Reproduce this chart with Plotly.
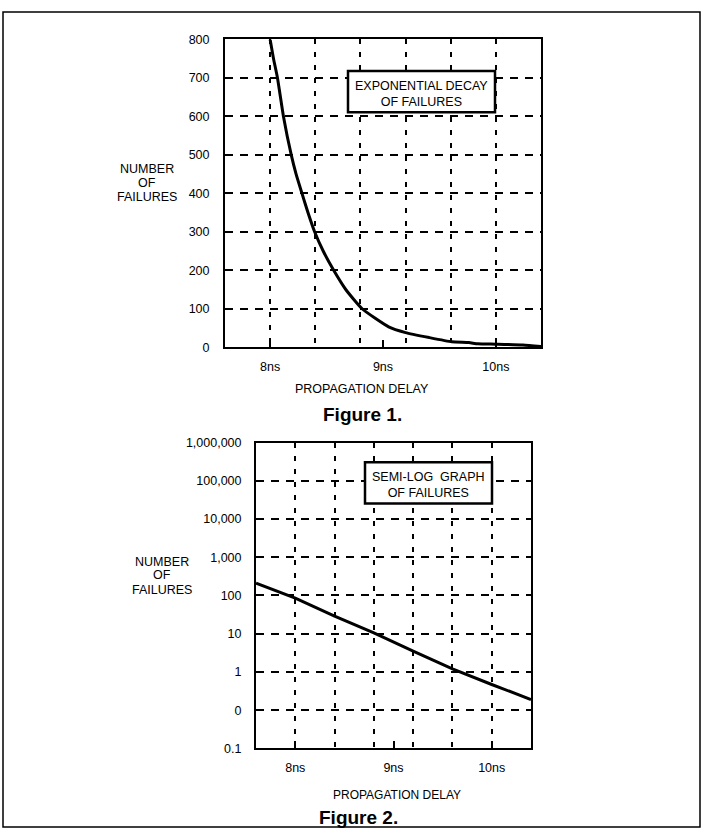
import plotly.graph_objects as go

# ---------------- data ----------------
# Figure 1: exponential decay of failures (linear scale)
delay_ns_fig1 = [8.00, 8.03, 8.065, 8.118, 8.187, 8.23, 8.282, 8.335, 8.394, 8.47,
                 8.563, 8.67, 8.815, 9.05, 9.20, 9.41, 9.61, 9.76, 9.84, 10.00,
                 10.24, 10.40]
failures_fig1 = [800, 750, 700, 600, 500, 450, 400, 350, 300, 250,
                 200, 150, 100, 53, 38, 25, 14, 12, 9, 8,
                 6, 2]

# Figure 2: semi-log graph of failures
delay_ns_fig2 = [7.6, 8.0, 8.4, 8.8, 9.2, 9.6, 10.0, 10.4]
failures_fig2 = [210, 85, 29, 10.5, 3.5, 1.2, 0.47, 0.19]

x_tick_vals = [8, 9, 10]
x_tick_text = ["8ns", "9ns", "10ns"]
x_grid_vals = [8.0, 8.4, 8.8, 9.2, 9.6, 10.0]
x_range = [7.6, 10.4]

y1_tick_vals = [0, 100, 200, 300, 400, 500, 600, 700, 800]
y1_tick_text = ["0", "100", "200", "300", "400", "500", "600", "700", "800"]

y2_tick_vals = [0.01, 0.1, 1, 10, 100, 1000, 10000, 100000, 1000000]
y2_tick_text = ["0.1", "0", "1", "10", "100", "1,000", "10,000", "100,000", "1,000,000"]

# ---------------- layout helpers ----------------
W, H = 704, 838
FONT = "Liberation Sans, Arial, Helvetica, sans-serif"
INK = "#000000"


def px(x):
    return x / W


def py(y):
    return 1 - y / H


fig = go.Figure()
fig.add_trace(go.Scatter(x=delay_ns_fig1, y=failures_fig1, mode="lines",
                         line=dict(color=INK, width=3, shape="spline", smoothing=0.5),
                         xaxis="x", yaxis="y", showlegend=False, hoverinfo="skip"))
fig.add_trace(go.Scatter(x=delay_ns_fig2, y=failures_fig2, mode="lines",
                         line=dict(color=INK, width=3),
                         xaxis="x2", yaxis="y2", showlegend=False, hoverinfo="skip"))
# invisible carriers so the overlaid label axes are drawn
fig.add_trace(go.Scatter(x=x_tick_vals, y=[0, 0, 0], mode="markers",
                         marker=dict(opacity=0), xaxis="x3", yaxis="y",
                         showlegend=False, hoverinfo="skip"))
fig.add_trace(go.Scatter(x=x_tick_vals, y=[1, 1, 1], mode="markers",
                         marker=dict(opacity=0), xaxis="x4", yaxis="y2",
                         showlegend=False, hoverinfo="skip"))

grid_axis_x = dict(range=x_range, autorange=False, tickmode="array", tickvals=x_grid_vals,
                   showticklabels=False, ticks="", showgrid=True, gridcolor=INK,
                   gridwidth=2, griddash="5px,8px", zeroline=False,
                   showline=True, linecolor=INK, linewidth=2, mirror=True, fixedrange=True)
label_axis_x = dict(range=x_range, autorange=False, tickmode="array", tickvals=x_tick_vals,
                    ticktext=x_tick_text, ticks="inside", ticklen=7, tickwidth=2,
                    tickcolor=INK, showgrid=False, zeroline=False, showline=False,
                    ticklabelstandoff=10, side="bottom",
                    tickfont=dict(family=FONT, size=12.5, color=INK), fixedrange=True)

fig.update_layout(
    width=W, height=H,
    margin=dict(l=0, r=0, t=0, b=0),
    paper_bgcolor="white", plot_bgcolor="white",
    font=dict(family=FONT, color=INK),
    xaxis=dict(domain=[px(225), px(541)], anchor="y", **grid_axis_x),
    xaxis3=dict(overlaying="x", anchor="y", **label_axis_x),
    yaxis=dict(domain=[py(346), py(33)], anchor="x", range=[0, 800], autorange=False,
               tickmode="array", tickvals=y1_tick_vals, ticktext=y1_tick_text,
               ticks="", showgrid=True, gridcolor=INK, gridwidth=2, griddash="8px,7px",
               zeroline=False, showline=True, linecolor=INK, linewidth=2, mirror=True,
               ticklabelstandoff=11, tickfont=dict(family=FONT, size=12.5, color=INK),
               fixedrange=True),
    xaxis2=dict(domain=[px(256), px(531)], anchor="y2", **grid_axis_x),
    xaxis4=dict(overlaying="x2", anchor="y2", **label_axis_x),
    yaxis2=dict(domain=[py(754), py(443)], anchor="x2", type="log", range=[-2, 6],
                autorange=False, tickmode="array", tickvals=y2_tick_vals,
                ticktext=y2_tick_text, ticks="", showgrid=True, gridcolor=INK,
                gridwidth=2, griddash="8px,7px", zeroline=False, showline=True,
                linecolor=INK, linewidth=2, mirror=True, ticklabelstandoff=10,
                tickfont=dict(family=FONT, size=12.5, color=INK), fixedrange=True),
)

shapes = [
    # outer page frame
    dict(type="rect", xref="paper", yref="paper", x0=px(3), x1=px(700), y0=py(834), y1=py(5),
         line=dict(color=INK, width=1.5), fillcolor="rgba(0,0,0,0)", layer="above"),
    # legend-like boxes
    dict(type="rect", xref="paper", yref="paper", x0=px(348), x1=px(495), y0=py(107), y1=py(65),
         line=dict(color=INK, width=2.5), fillcolor="white", layer="above"),
    dict(type="rect", xref="paper", yref="paper", x0=px(365), x1=px(492), y0=py(505), y1=py(463),
         line=dict(color=INK, width=2.5), fillcolor="white", layer="above"),
]
fig.update_layout(shapes=shapes)


def txt(x, y, s, size=12.5, bold=False):
    fig.add_annotation(x=px(x), y=py(y), xref="paper", yref="paper", text=s,
                       showarrow=False, xanchor="center", yanchor="middle",
                       font=dict(family=FONT, size=size, color=INK,
                                 weight="bold" if bold else "normal"))


txt(421, 88, "EXPONENTIAL DECAY<br>OF FAILURES", 12.5)
txt(428, 486, "SEMI-LOG  GRAPH<br>OF FAILURES", 12.5)

for (cx, ys) in [(147, (165, 179, 193)), (162, (564, 578, 593))]:
    for line, yy in zip(["NUMBER", "OF", "FAILURES"], ys):
        txt(cx, yy, line, 12.5)

txt(362, 388, "PROPAGATION DELAY", 12.5)
txt(362, 414, "Figure 1.", 19, bold=True)
txt(397, 801, "PROPAGATION DELAY", 12)
txt(358, 824, "Figure 2.", 19, bold=True)

fig.write_html(
    "out.html",
    config={"displayModeBar": False, "staticPlot": True},
    post_script=(
        "var d=document.getElementById('{plot_id}');"
        "d.style.position='fixed';d.style.left='0px';d.style.top='0px';"
        "document.body.style.margin='0';document.body.style.overflow='hidden';"
        "document.documentElement.style.overflow='hidden';"
    ),
)
